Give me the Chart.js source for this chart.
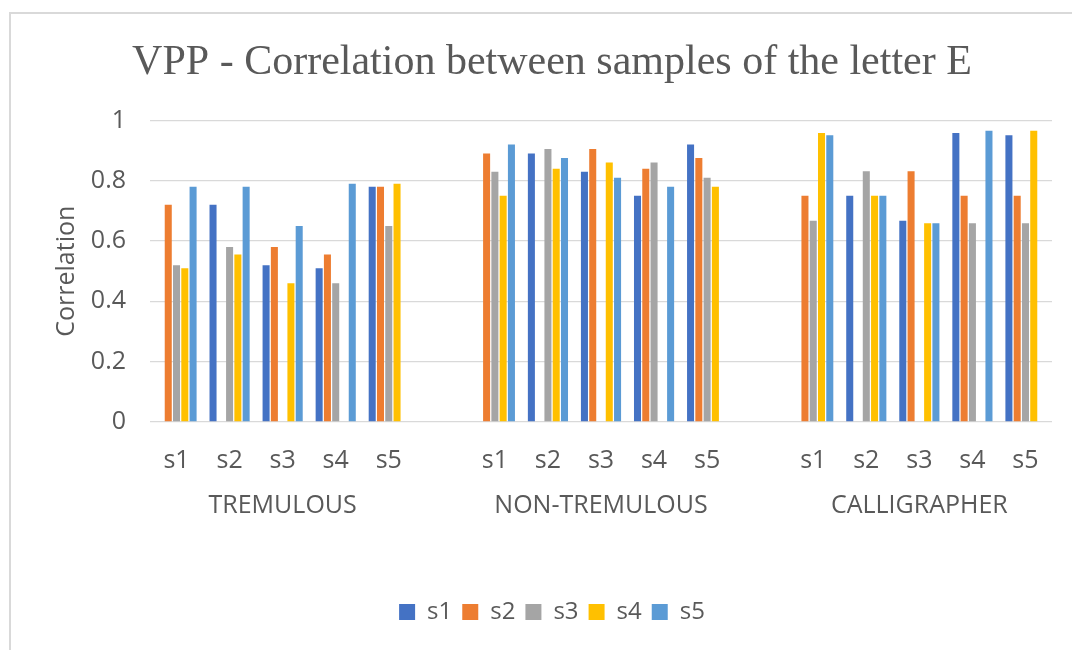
<!DOCTYPE html>
<html>
<head>
<meta charset="utf-8">
<script src="https://cdn.jsdelivr.net/npm/chart.js@4"></script>
<style>
  html, body { margin: 0; padding: 0; background: #fff; overflow: hidden; }
  #wrap { position: relative; width: 1072px; height: 650px; }
  #frame {
    position: absolute; left: 9px; top: 12px; right: -10px; bottom: -10px;
    border-top: 2px solid #d9d9d9; border-left: 2px solid #d9d9d9;
  }
  #myChart { position: absolute; left: 0; top: 0; }
</style>
</head>
<body>
<div id="wrap">
  <div id="frame"></div>
  <canvas id="myChart" width="1072" height="650"></canvas>
</div>
<script>
// Amostras e grupos
const samples = ['s1', 's2', 's3', 's4', 's5'];
const groups = ['TREMULOUS', 'NON-TREMULOUS', 'CALLIGRAPHER'];

// Correlação de cada série (s1..s5) com as amostras de cada grupo
const s1Tremulous = [null, 0.72, 0.52, 0.51, 0.78];
const s1NonTremulous = [null, 0.89, 0.83, 0.75, 0.92];
const s1Calligrapher = [null, 0.75, 0.667, 0.958, 0.951];

const s2Tremulous = [0.72, null, 0.58, 0.555, 0.78];
const s2NonTremulous = [0.89, null, 0.905, 0.84, 0.875];
const s2Calligrapher = [0.75, null, 0.831, 0.75, 0.75];

const s3Tremulous = [0.52, 0.58, null, 0.46, 0.65];
const s3NonTremulous = [0.83, 0.905, null, 0.86, 0.81];
const s3Calligrapher = [0.667, 0.831, null, 0.659, 0.659];

const s4Tremulous = [0.51, 0.555, 0.46, null, 0.79];
const s4NonTremulous = [0.75, 0.84, 0.86, null, 0.78];
const s4Calligrapher = [0.958, 0.75, 0.659, null, 0.966];

const s5Tremulous = [0.78, 0.78, 0.65, 0.79, null];
const s5NonTremulous = [0.92, 0.875, 0.81, 0.78, null];
const s5Calligrapher = [0.951, 0.75, 0.659, 0.966, null];

const seriesColors = ['#4472C4', '#ED7D31', '#A5A5A5', '#FFC000', '#5B9BD5'];
const textColor = '#595959';
const sansFont = "'Open Sans', sans-serif";

// Junta os três grupos com uma categoria vazia entre eles
function joinGroups(a, b, c) {
    return [...a, null, ...b, null, ...c];
}

const labels = [...samples, '', ...samples, '', ...samples];

// Rótulo do grupo no centro de cada bloco de 5 categorias
const groupLabels = labels.map((_, i) => {
    const g = Math.floor(i / 6);
    return (i % 6 === 2) ? groups[g] : '';
});

const seriesData = [
    joinGroups(s1Tremulous, s1NonTremulous, s1Calligrapher),
    joinGroups(s2Tremulous, s2NonTremulous, s2Calligrapher),
    joinGroups(s3Tremulous, s3NonTremulous, s3Calligrapher),
    joinGroups(s4Tremulous, s4NonTremulous, s4Calligrapher),
    joinGroups(s5Tremulous, s5NonTremulous, s5Calligrapher)
];

const ctx = document.getElementById('myChart').getContext('2d');

const myChart = new Chart(ctx, {
    type: 'bar',
    data: {
        labels: labels,
        datasets: samples.map((name, i) => ({
            label: name,
            data: seriesData[i],
            backgroundColor: seriesColors[i],
            borderWidth: 0,
            categoryPercentage: 0.78,
            barPercentage: 0.85
        }))
    },
    options: {
        responsive: false,
        animation: false,
        devicePixelRatio: 1,
        layout: {
            padding: { left: 52, right: 20, top: 0, bottom: 16 }
        },
        scales: {
            x: {
                grid: { display: false },
                border: { display: false },
                ticks: {
                    color: textColor,
                    font: { family: sansFont, size: 25 },
                    padding: 16,
                    autoSkip: false,
                    maxRotation: 0
                },
                afterFit: (scale) => { scale.height = 56; }
            },
            x2: {
                type: 'category',
                labels: labels,
                position: 'bottom',
                offset: true,
                grid: { display: false },
                border: { display: false },
                ticks: {
                    color: textColor,
                    font: { family: sansFont, size: 25 },
                    padding: 5,
                    autoSkip: false,
                    maxRotation: 0,
                    minRotation: 0,
                    callback: (value, index) => groupLabels[index]
                },
                afterFit: (scale) => { scale.height = 112; }
            },
            y: {
                min: 0,
                max: 1,
                ticks: {
                    stepSize: 0.2,
                    color: textColor,
                    font: { family: sansFont, size: 25 },
                    padding: 24,
                    // 1, 0.8, 0.6 ... sem casas decimais extras
                    callback: (value) => String(Number(value.toFixed(1)))
                },
                grid: { color: '#d9d9d9', lineWidth: 1.3, drawTicks: false },
                border: { display: false },
                title: {
                    display: true,
                    text: 'Correlation',
                    color: textColor,
                    font: { family: sansFont, size: 25 },
                    padding: { top: 0, bottom: 0 }
                },
                afterFit: (scale) => { scale.width = 98; }
            }
        },
        plugins: {
            title: {
                display: true,
                text: 'VPP - Correlation between samples of the letter E',
                color: textColor,
                font: { family: "'Liberation Serif', serif", size: 42, weight: 'normal' },
                padding: { top: 38, bottom: 32 }
            },
            legend: {
                position: 'bottom',
                labels: {
                    color: textColor,
                    font: { family: sansFont, size: 24 },
                    boxWidth: 16,
                    boxHeight: 16,
                    padding: 10
                }
            },
            tooltip: { enabled: false }
        }
    }
});
</script>
</body>
</html>
